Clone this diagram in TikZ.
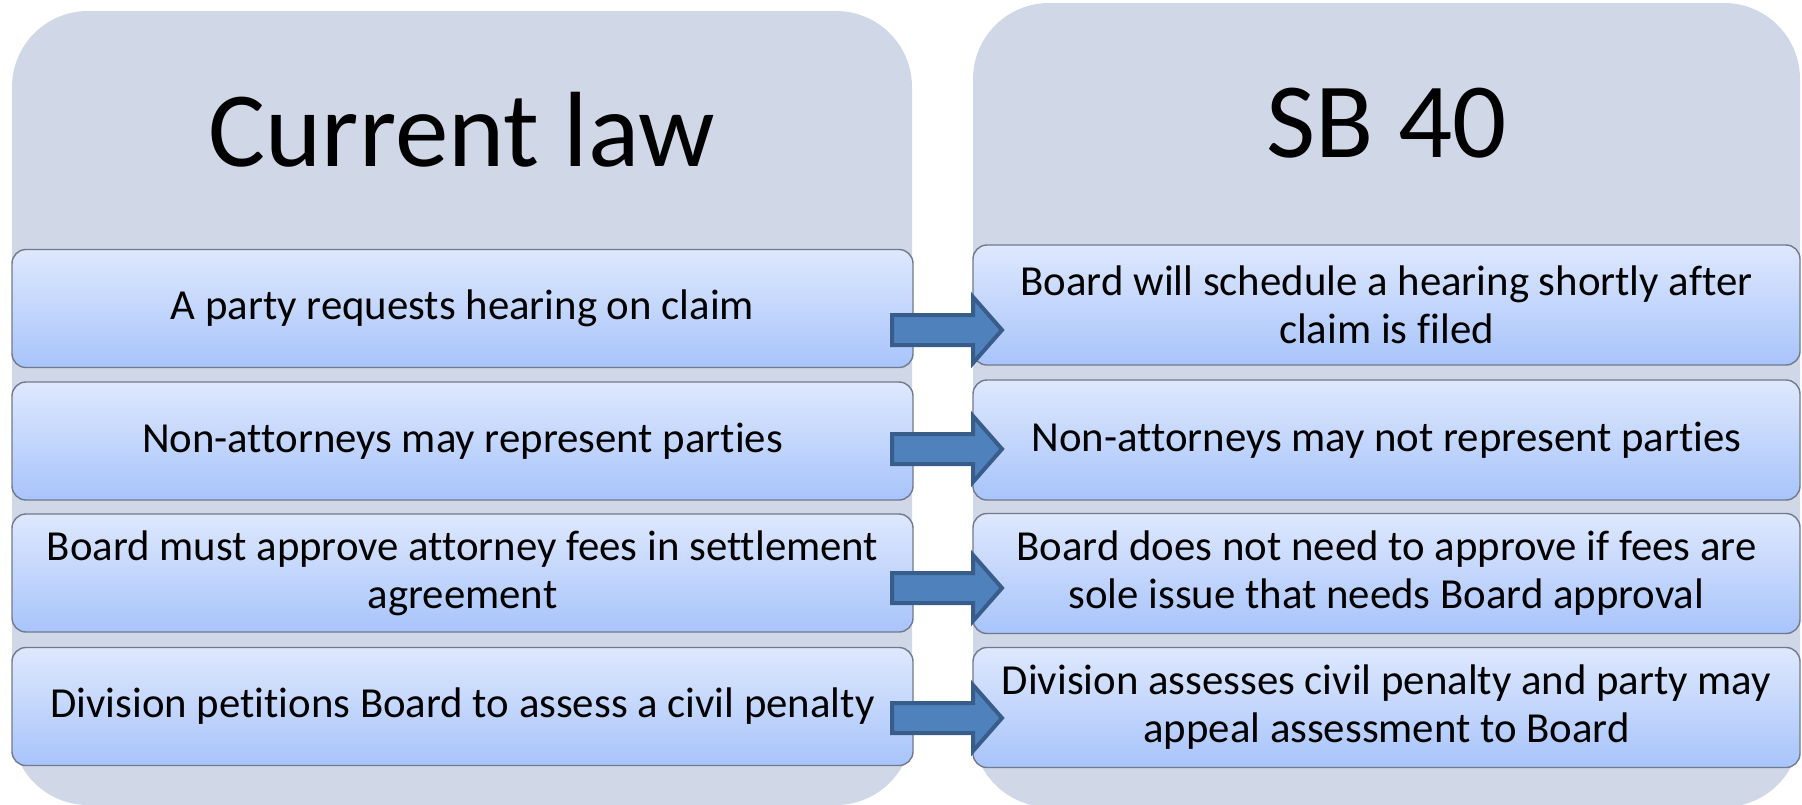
\documentclass[tikz,border=0pt]{standalone}
\usepackage{fontspec}
\setmainfont{Carlito}[Ligatures={NoCommon}]
\definecolor{panelgray}{RGB}{208,216,232}
\definecolor{boxtop}{RGB}{222,232,253}
\definecolor{boxbot}{RGB}{168,196,251}
\definecolor{boxline}{RGB}{112,122,140}
\definecolor{arrfill}{RGB}{79,129,189}
\definecolor{arrline}{RGB}{56,93,138}
\newcommand{\blockarrowat}[1]{%
  \draw[blockarrow] (892,{#1-15}) -- (973,{#1-15}) -- (973,{#1-33}) -- (1002,{#1}) -- (973,{#1+33}) -- (973,{#1+15}) -- (892,{#1+15}) -- cycle;}
\begin{document}
\begin{tikzpicture}[x=1pt,y=-1pt,
  panel/.style={fill=panelgray, draw=none, rounded corners=76pt, inner sep=0pt},
  titletext/.style={font=\fontsize{107}{112}\selectfont, inner sep=0pt, anchor=base},
  itembox/.style={draw=boxline, line width=1.4pt, top color=boxtop, bottom color=boxbot, rounded corners=14pt, align=center, inner sep=0pt, font=\fontsize{42.8}{48}\selectfont},
  leftbox/.style={itembox, minimum width=901pt, minimum height=118pt},
  rightbox/.style={itembox, minimum width=827pt, minimum height=120pt},
  blockarrow/.style={fill=arrfill, draw=arrline, line width=4pt, line join=miter}]
\useasboundingbox (0,0) rectangle (1802,804);
% panels
\node[panel, minimum width=900pt, minimum height=794pt] (lp) at (462,408) {};
\node[panel, minimum width=827pt, minimum height=804pt] (rp) at (1386.5,405) {};
% titles
\node[titletext] (lt) at (462,166) {Current law};
\node[titletext] (rt) at (1386.5,157) {SB 40};
% left boxes
\node[leftbox] (l1) at (462.5,308.5) {A party requests hearing on claim};
\node[leftbox] (l2) at (462.5,441) {Non-attorneys may represent parties};
\node[leftbox] (l3) at (462.5,573) {Board must approve attorney fees in settlement\\agreement};
\node[leftbox] (l4) at (462.5,706.5) {Division petitions Board to assess a civil penalty};
% right boxes
\node[rightbox] (r1) at (1386.5,305) {Board will schedule a hearing shortly after\\claim is filed};
\node[rightbox] (r2) at (1386.5,440) {Non-attorneys may not represent parties};
\node[rightbox] (r3) at (1386.5,573.5) {Board does not need to approve if fees are\\sole issue that needs Board approval};
\node[rightbox] (r4) at (1386.5,707.5) {Division assesses civil penalty and party may\\appeal assessment to Board};
% arrows
\blockarrowat{330}
\blockarrowat{449}
\blockarrowat{588}
\blockarrowat{718}
\end{tikzpicture}
\end{document}
